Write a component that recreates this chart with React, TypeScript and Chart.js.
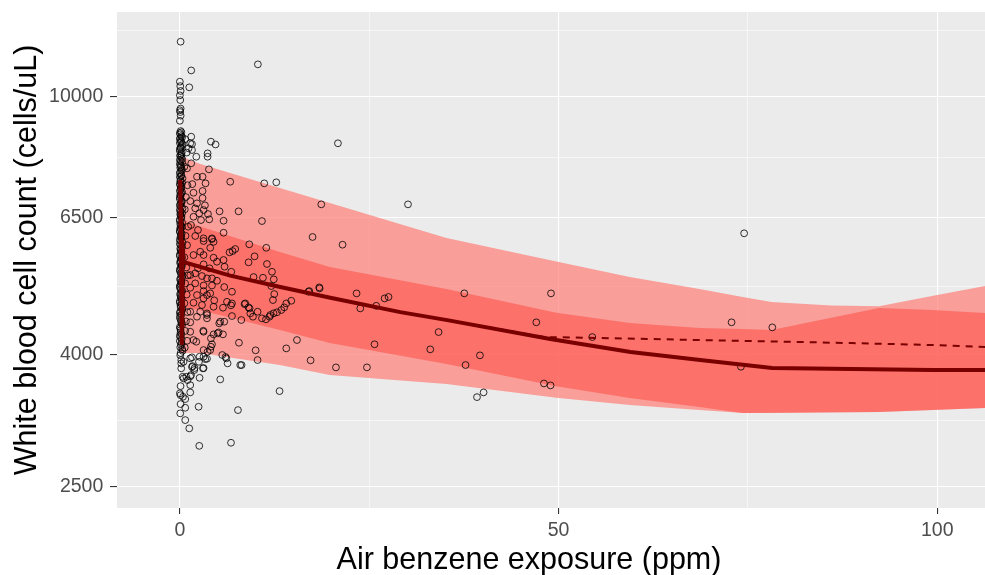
import { useEffect, useRef } from "react";
import { Chart, registerables } from "chart.js";

Chart.register(...registerables);

const FONT = "'Liberation Sans', Arial, Helvetica, sans-serif";

// axis ranges, ticks and titles
const X_MIN = -8.3;
const X_MAX = 106.3;
const Y_MIN = 2318;
const Y_MAX = 13515;
const X_MAJOR = [0, 50, 100];
const X_MINOR = [25, 75];
const Y_MAJOR = [2500, 4000, 6500, 10000];
const Y_MINOR = [3162, 5099, 8062, 12649];
const X_TITLE = "Air benzene exposure (ppm)";
const Y_TITLE = "White blood cell count (cells/uL)";

// observed data: air benzene exposure (ppm) and white blood cell count (cells/uL)
const EXPOSURE = [
  // top outliers
  0.1, 10.3, 1.5, 1.24, 0.0, 0.05, 0.1, 0.0, 0.05, 0.1, 0.0, 0.05, 0.1, 0.0,
  // dense column at zero exposure
  0.1, 0.0, 0.2, 0.05, 0.15, 0.0, 0.25, 0.1, 0.0, 0.2,
  0.05, 0.3, 0.1, 0.0, 0.15, 0.25, 0.05, 0.2, 0.0, 0.1,
  0.3, 0.05, 0.15, 0.0, 0.2, 0.1, 0.0, 0.25, 0.05, 0.15,
  0.0, 0.3, 0.1, 0.2, 0.0, 0.05, 0.25, 0.1, 0.0, 0.15,
  0.2, 0.05, 0.0, 0.3, 0.1, 0.15, 0.0, 0.2, 0.05, 0.25,
  0.1, 0.0, 0.15, 0.3, 0.05, 0.2, 0.0, 0.1, 0.25, 0.05,
  0.15, 0.0, 0.2, 0.1, 0.3, 0.0, 0.05, 0.15, 0.25, 0.0,
  0.1, 0.2, 0.05, 0.0, 0.15, 0.3, 0.1,
  // more of the zero-exposure column
  0.2, 0.05, 0.3, 0.0, 0.15, 0.35, 0.1, 0.0, 0.25, 0.05,
  0.2, 0.0, 0.3, 0.1, 0.05, 0.25, 0.0, 0.15, 0.35, 0.05,
  0.0, 0.2, 0.1, 0.3, 0.05, 0.0, 0.25, 0.15, 0.0, 0.35,
  0.1, 0.05, 0.2, 0.0, 0.3, 0.15, 0.05, 0.0, 0.25, 0.1,
  0.0, 0.35, 0.15, 0.05, 0.2, 0.0, 0.3, 0.1, 0.05, 0.25,
  0.0, 0.15, 0.35, 0.05, 0.2, 0.1, 0.0, 0.3, 0.05, 0.15,
  0.25, 0.0, 0.1, 0.35, 0.05, 0.2, 0.0, 0.15, 0.3, 0.05,
  0.1, 0.0, 0.25, 0.2, 0.05, 0.35,
  // second column near zero
  0.7, 0.9, 0.6, 1.0, 0.8, 0.65, 1.1, 0.75, 0.95, 0.6,
  0.85, 1.05, 0.7, 0.9, 0.6, 1.0, 0.8, 0.7, 0.95, 0.65,
  // lower part
  0.05, 0.18, 0.18, 0.18, 0.36, 0.09, 0.09, 0.71, 0.09, 0.05,
  0.71, 1.24, 0.49, 0.49, 1.02, 0.0, 0.41, 0.71, 1.37, 1.37,
  1.37, 0.85, 1.94, 3.13, 2.52, 1.68, 1.6, 2.6, 2.6, 2.47,
  5.33, 7.67, 2.56, 6.75, 13.16, 7.97, 10.26, 10.0, 14.05, 17.26,
  15.46, 7.8, 5.6, 6.03, 6.3, 4.1, 3.58, 3.13, 3.09, 4.98,
  5.69, 5.2, 5.86, 1.8, 2.17, 4.1, 4.24, 4.01, 3.66, 3.13,
  3.35, 6.13, 8.15, 1.37, 1.6, 1.9, 3.05, 1.47,
  // upper cluster
  1.37, 1.15, 1.6, 2.17, 3.66, 4.1, 4.71, 1.5, 1.6, 3.66,
  1.5, 0.94, 3.84, 2.26, 3.0, 6.65, 11.14, 1.64, 3.39, 1.8,
  3.0, 3.0, 1.37, 2.26, 3.31, 2.03, 3.13, 5.24, 7.75, 2.56,
  3.71, 3.88, 5.77, 10.84, 2.79, 1.8, 1.47, 2.39, 5.77, 3.13,
  4.24, 2.03,
  // middle cluster
  3.13, 4.24, 4.45, 9.16, 11.41, 7.31, 6.56, 6.96, 4.01, 2.69,
  1.8, 3.13, 4.45, 9.86, 9.07, 11.5, 5.77, 4.9, 3.13, 2.39,
  3.92, 5.9, 6.79, 12.16, 9.73, 10.97, 1.37, 2.03, 2.92, 3.58,
  4.24, 4.9, 5.86, 6.88, 4.24, 3.13, 2.03, 1.37, 3.13, 4.01,
  2.26, 3.13, 4.54, 2.92, 1.8, 2.69, 1.37, 4.45, 5.69, 6.88,
  8.63, 9.2, 10.26, 10.84, 11.94, 11.37, 8.11, 6.88, 3.58, 2.26,
  3.58, 5.33, 1.37, 1.37, 3.13, 4.45, 5.11,
  // 8-20 ppm
  8.54, 9.07, 9.3, 9.65, 11.84, 12.37, 12.82, 13.39, 14.05, 14.71,
  12.29, 12.46, 12.07, 16.99, 18.4, 6.75, 6.22, 3.58, 3.58,
  12.4, 13.78,
  25.93, 27.03, 27.55, 34.16, 25.7, 33.06, 20.61, 24.7,
  // scattered higher exposures
  12.73, 18.67, 30.12, 17.52, 21.48, 20.87, 37.55, 49.0, 47.06, 23.33,
  18.45, 17.08, 23.82, 39.62, 37.72, 48.07, 48.94, 39.23, 40.1, 54.45,
  74.5, 72.84, 78.22, 74.08,
];

const WBC = [
  // top outliers
  12160, 11220, 10980, 10340, 10550, 10385, 10208, 10050, 9883, 9590, 9530, 9470, 9350, 9180,
  // dense column at zero exposure
  8852, 8790, 8697, 8636, 8545, 8484, 8394, 8335, 8245, 8157,
  8099, 8013, 7958, 7873, 7790, 7735, 7652, 7570, 7517, 7437,
  7358, 7306, 7229, 7153, 7102, 7027, 6952, 6877, 6828, 6756,
  6685, 6614, 6567, 6498, 6428, 6360, 6293, 6249, 6183, 6117,
  6052, 5988, 5924, 5861, 5799, 5737, 5676, 5617, 5557, 5498,
  5440, 5382, 5325, 5268, 5212, 5157, 5102, 5048, 4994, 4941,
  4889, 4837, 4786, 4735, 4685, 4635, 4586, 4522, 4474, 4411,
  4363, 4301, 4256, 4196, 4137, 4078, 4021,
  // more of the zero-exposure column
  8815, 8748, 8660, 8601, 8510, 8452, 8360, 8301, 8210, 8121,
  8066, 7992, 7921, 7835, 7768, 7690, 7618, 7540, 7480, 7401,
  7330, 7270, 7195, 7124, 7060, 6994, 6911, 6850, 6790, 6721,
  6652, 6590, 6531, 6466, 6392, 6330, 6270, 6210, 6149, 6085,
  6021, 5953, 5895, 5830, 5770, 5705, 5648, 5585, 5530, 5466,
  5410, 5355, 5298, 5239, 5186, 5128, 5077, 5020, 4969, 4912,
  4862, 4810, 4762, 4708, 4661, 4611, 4556, 4497, 4445, 4390,
  4330, 4280, 4224, 4168, 4105, 4052,
  // second column near zero
  8600, 8200, 7800, 7300, 7000, 6700, 6300, 6100, 5900, 5650,
  5450, 5300, 5150, 4950, 4800, 4650, 4500, 4350, 4200, 4100,
  // lower part
  3990, 3922, 3876, 3808, 3695, 3575, 3462, 3414, 3354, 3245,
  3168, 3076, 3898, 3674, 3652, 3484, 3442, 3310, 3588, 3496,
  3700, 3695, 3812, 3812, 3898, 3839, 3960, 3968, 3682, 3322,
  3661, 3283, 2891, 2923, 3512, 3853, 3922, 4060, 4088, 3918,
  4211, 4171, 3993, 3965, 3876, 4112, 3940, 4064, 4352, 4312,
  4297, 4469, 4495, 4211, 4186, 4236, 4148, 4064, 4040, 3968,
  3936, 3946, 3853, 3946, 3827, 3785, 3808, 3718,
  // upper cluster
  8475, 8324, 8274, 8080, 8177, 8524, 8439, 8676, 8450, 8080,
  7893, 7752, 7725, 7525, 7525, 7392, 7350, 7330, 7350, 7109,
  7153, 6976, 6902, 6846, 6797, 6725, 6685, 6654, 6654, 6607,
  6590, 6467, 6435, 6428, 6451, 6527, 6338, 6227, 6167, 6045,
  6045, 6096,
  // middle cluster
  5988, 6030, 5970, 5918, 5845, 5820, 5752, 5778, 5845, 5764,
  5697, 5697, 5643, 5670, 5551, 5518, 5597, 5563, 5512, 5434,
  5434, 5465, 5368, 5368, 5268, 5255, 5306, 5338, 5287, 5243,
  5243, 5199, 5084, 5000, 5112, 5112, 5151, 5071, 5012, 4971,
  4941, 4883, 4849, 4769, 4808, 4657, 4657, 4740, 4724, 4797,
  4797, 4713, 4657, 4549, 4603, 4533, 4522, 4586, 4603, 4575,
  4549, 4495, 4485, 4337, 4337, 4297, 4327,
  // 8-20 ppm
  4785, 4730, 4630, 4575, 4575, 4630, 4648, 4685, 4797, 4842,
  4854, 4959, 5102, 5000, 5078, 4764, 4825, 4630, 4941,
  5225, 4730,
  4756, 4883, 4908, 4332, 4148, 4074, 3821, 3821,
  // scattered higher exposures
  7377, 6821, 6821, 6074, 5910, 8475, 4971, 4971, 4485, 4971,
  5060, 5012, 4713, 3988, 3853, 3609, 3584, 3438, 3496, 4256,
  6154, 4485, 4405, 3830,
];

// fitted curve (solid) and alternative fit (dashed)
const FIT_X = [0.05, 0.25, 0.1, 0.35, 0.15, 0.4, 0.3, 0.45, 6.65, 13.26, 19.86, 29.1, 35.3, 48.9, 59.5, 68.7, 78.2, 88.7, 99.4, 106.3];
const FIT_Y = [7440, 4140, 6900, 4400, 6300, 4700, 6000, 5557, 5294, 5084, 4895, 4650, 4520, 4227, 4035, 3922, 3813, 3799, 3785, 3785];
const DASH_X = [35.3, 48.1, 55.4, 68.7, 78.2, 88.7, 99.4, 106.3];
const DASH_Y = [4520, 4256, 4242, 4211, 4190, 4166, 4137, 4108];

// interval bands
const BAND_X = [0, 2.6, 13.2, 19.8, 35.2, 49.7, 59.4, 68.6, 74.3, 78.1, 86, 92.3, 99.3, 106.3];
const OUTER_HI = [8100, 7877, 7230, 6853, 6050, 5569, 5268, 5049, 4907, 4821, 4761, 4750, 4925, 5104];
const OUTER_LO = [4021, 4021, 3853, 3718, 3602, 3430, 3342, 3283, 3249, 3249, 3255, 3261, 3283, 3307];
const INNER_HI = [6480, 6310, 5758, 5459, 5050, 4640, 4475, 4395, 4380, 4363, 4558, 4718, 4685, 4635];
const INNER_LO = [4735, 4685, 4363, 4166, 3867, 3572, 3427, 3319, 3249, 3252, 3258, 3261, 3283, 3307];

const PANEL = "#EBEBEB";
const LIGHT = "rgba(255, 125, 118, 0.7)";
const DARK = "rgba(255, 60, 50, 0.45)";
const LINE = "#7A0000";
const NONE = "rgba(0,0,0,0)";

const pair = (xs: number[], ys: number[]) => xs.map((x, i) => ({ x, y: ys[i] }));

const panelBg = {
  id: "panelBg",
  beforeDraw(chart: any) {
    const { ctx, chartArea: a } = chart;
    ctx.save();
    ctx.fillStyle = PANEL;
    ctx.fillRect(a.left, a.top, a.right - a.left, a.bottom - a.top);
    ctx.restore();
  },
};

const xTitle = {
  id: "xTitle",
  afterDraw(chart: any) {
    const { ctx } = chart;
    ctx.save();
    ctx.font = `30.5px ${FONT}`;
    ctx.fillStyle = "#000000";
    ctx.textAlign = "center";
    ctx.textBaseline = "alphabetic";
    ctx.fillText(X_TITLE, 529, 568.5);
    ctx.restore();
  },
};

export default function App() {
  const ref = useRef<HTMLCanvasElement>(null);

  useEffect(() => {
    document.body.style.margin = "0";
    const canvas = ref.current;
    if (!canvas) return;

    const band = (ys: number[], fill: any, color: string, order: number) => ({
      data: pair(BAND_X, ys),
      fill,
      backgroundColor: color,
      borderColor: NONE,
      borderWidth: 0,
      pointRadius: 0,
      order,
    });

    const chart = new Chart(canvas, {
      type: "line",
      data: {
        datasets: [
          band(OUTER_HI, "+1", LIGHT, 40) as any,
          band(OUTER_LO, false, NONE, 40) as any,
          band(INNER_HI, "+1", DARK, 30) as any,
          band(INNER_LO, false, NONE, 30) as any,
          {
            data: pair(EXPOSURE, WBC),
            showLine: false,
            pointRadius: 3.4,
            pointBorderWidth: 0.8,
            pointBorderColor: "#000000",
            pointBackgroundColor: NONE,
            order: 10,
          },
          {
            data: pair(FIT_X, FIT_Y),
            borderColor: LINE,
            borderWidth: 4,
            pointRadius: 0,
            fill: false,
            order: 2,
          },
          {
            data: pair(DASH_X, DASH_Y),
            borderColor: LINE,
            borderWidth: 2,
            borderDash: [7, 6],
            pointRadius: 0,
            fill: false,
            order: 1,
          },
        ],
      },
      options: {
        responsive: false,
        animation: false,
        devicePixelRatio: 1,
        events: [],
        layout: { autoPadding: false, padding: { top: 12, left: 0, right: 0, bottom: 0 } },
        plugins: { legend: { display: false }, tooltip: { enabled: false } },
        scales: {
          x: {
            type: "linear",
            min: X_MIN,
            max: X_MAX,
            afterBuildTicks: (s: any) => {
              s.ticks = [...X_MAJOR, ...X_MINOR].sort((a, b) => a - b).map((v) => ({ value: v }));
            },
            afterFit: (s: any) => {
              s.height = 67;
              s.paddingLeft = 0;
              s.paddingRight = 0;
            },
            ticks: {
              autoSkip: false,
              maxRotation: 0,
              padding: 5,
              color: "#4D4D4D",
              font: { family: FONT, size: 19.5 },
              callback: (v: any) => (X_MAJOR.includes(Number(v)) ? String(v) : ""),
            },
            grid: {
              color: "#FFFFFF",
              lineWidth: (c: any) => (X_MAJOR.includes(c.tick?.value) ? 1.1 : 0.55),
              tickLength: 6,
              tickWidth: 1.1,
              tickColor: (c: any) => (X_MAJOR.includes(c.tick?.value) ? "#333333" : NONE),
            },
            border: { display: false },
            title: { display: false },
          },
          y: {
            type: "logarithmic",
            min: Y_MIN,
            max: Y_MAX,
            afterBuildTicks: (s: any) => {
              s.ticks = [...Y_MAJOR, ...Y_MINOR].sort((a, b) => a - b).map((v) => ({ value: v }));
            },
            afterFit: (s: any) => {
              s.width = 117;
              s.paddingTop = 0;
              s.paddingBottom = 0;
            },
            ticks: {
              autoSkip: false,
              padding: 6.7,
              color: "#4D4D4D",
              font: { family: FONT, size: 19.5 },
              callback: (v: any) => (Y_MAJOR.includes(Number(v)) ? String(v) : ""),
            },
            grid: {
              color: "#FFFFFF",
              lineWidth: (c: any) => (Y_MAJOR.includes(c.tick?.value) ? 1.1 : 0.55),
              tickLength: 7,
              tickWidth: 1.1,
              tickColor: (c: any) => (Y_MAJOR.includes(c.tick?.value) ? "#333333" : NONE),
            },
            border: { display: false },
            title: {
              display: true,
              text: Y_TITLE,
              color: "#000000",
              font: { family: FONT, size: 30.5, lineHeight: 1 },
              padding: { top: 12.3, bottom: 0 },
            },
          },
        },
      } as any,
      plugins: [panelBg, xTitle],
    });

    return () => chart.destroy();
  }, []);

  return (
    <div style={{ width: 985, height: 575 }}>
      <canvas ref={ref} width={985} height={575} style={{ display: "block" }} />
    </div>
  );
}
